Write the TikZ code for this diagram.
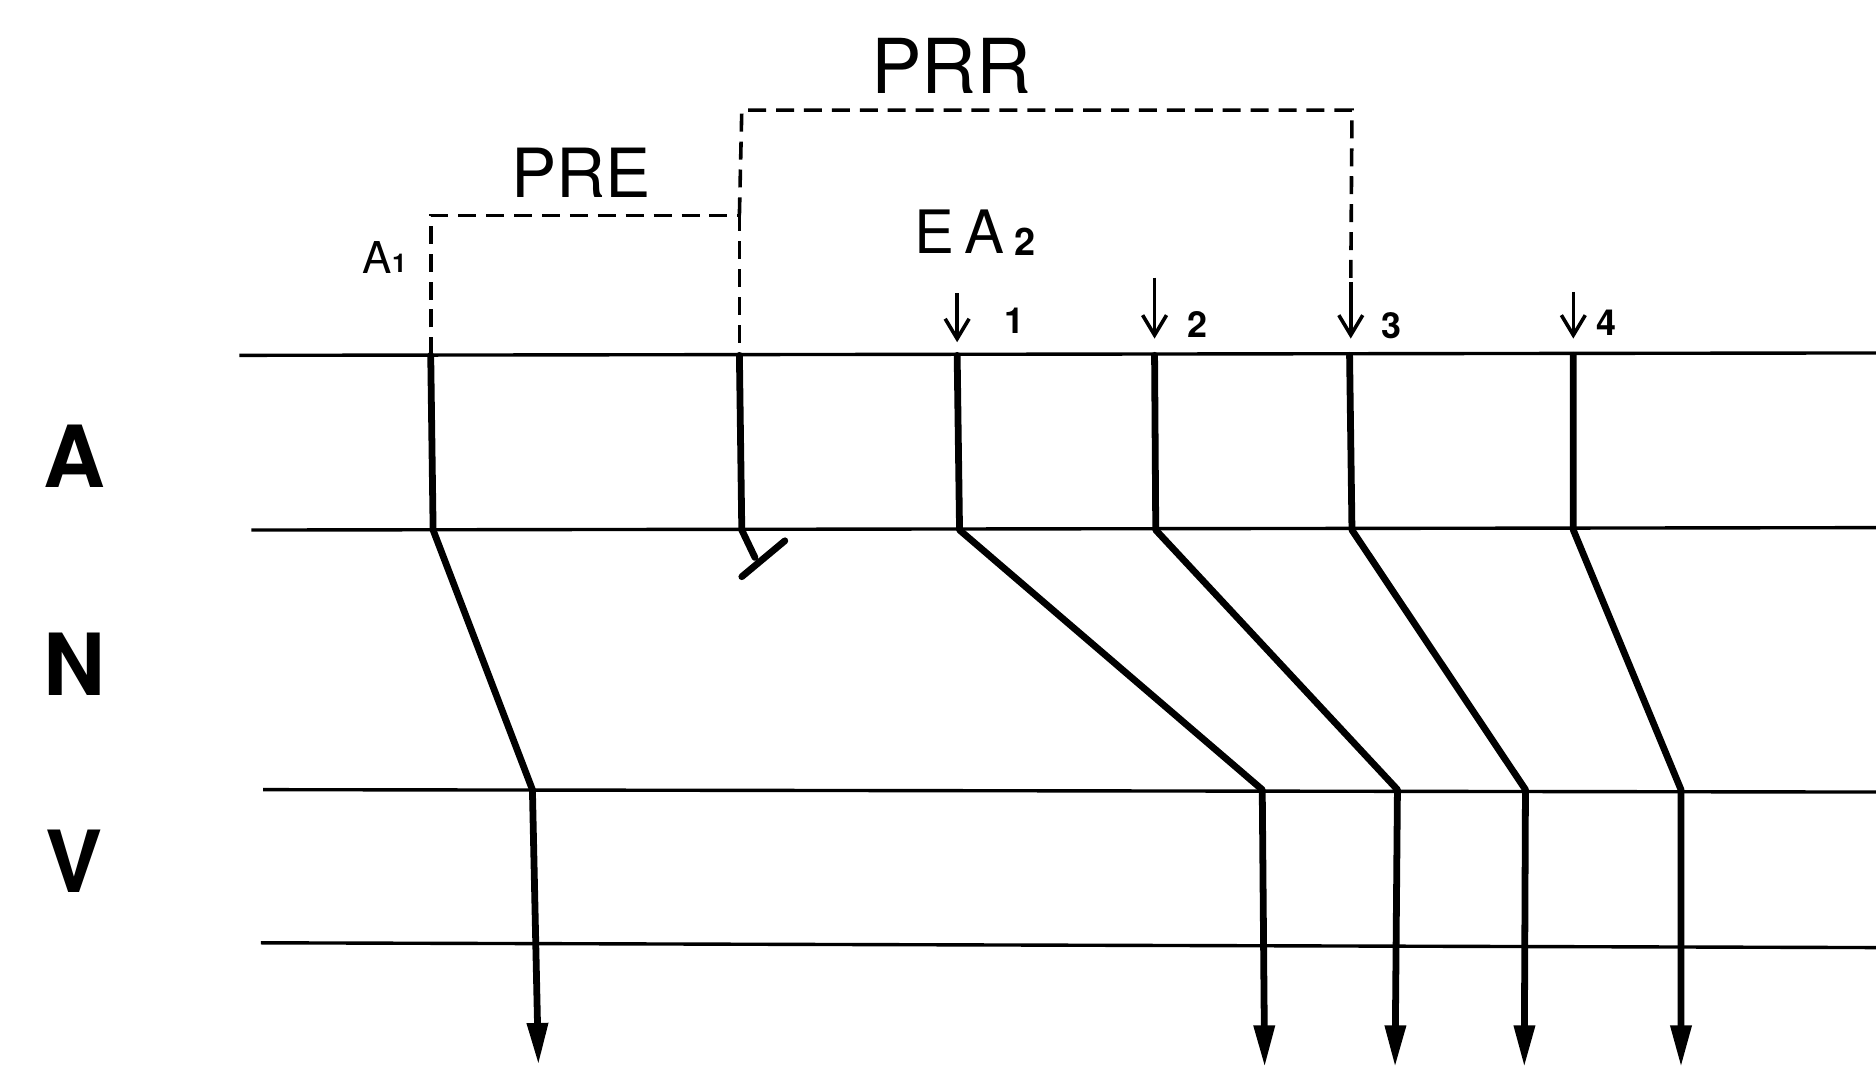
\documentclass[tikz,border=0pt]{standalone}
\usepackage{fontspec}
\setmainfont{TeX Gyre Heros}
\usetikzlibrary{arrows.meta}
\begin{document}
\begin{tikzpicture}[x=0.6pt,y=-0.6pt,
  hline/.style={line width=1.7pt},
  path/.style={line width=3.4pt,line join=round,line cap=round},
  endarrow/.style={-{Triangle[length=21pt,width=10pt]}},
  smallarrow/.style={line width=1.8pt,-{Straight Barb[length=10pt,width=12pt,line width=1.8pt]}},
  bracket/.style={line width=1.8pt,dash pattern=on 9pt off 5pt},
  lbl/.style={inner sep=0pt,anchor=center},
  big/.style={lbl,font=\fontsize{43}{43}\selectfont\bfseries},
  num/.style={lbl,font=\fontsize{18}{18}\selectfont\bfseries}]
\useasboundingbox (0,0) rectangle (1568,899);
% horizontal layer lines
\coordinate (l1a) at (200,297); \coordinate (l1b) at (1568,295);
\coordinate (l2a) at (210,443); \coordinate (l2b) at (1568,441);
\coordinate (l3a) at (220,660); \coordinate (l3b) at (1568,662);
\coordinate (l4a) at (218,788); \coordinate (l4b) at (1568,792);
\draw[hline] (l1a) -- (l1b);
\draw[hline] (l2a) -- (l2b);
\draw[hline] (l3a) -- (l3b);
\draw[hline] (l4a) -- (l4b);
% layer labels
\node[big] (lA) at (62,381) {A};
\node[big] (lN) at (62,555) {N};
\node[big] (lV) at (62,720) {V};
% pathway A1
\coordinate (a0) at (360,297); \coordinate (a1) at (362,443);
\coordinate (a2) at (445,660); \coordinate (a3) at (450,890);
\draw[path,endarrow] (a0) -- (a1) -- (a2) -- (a3);
% blocked pathway
\coordinate (b0) at (618,297); \coordinate (b1) at (620,443);
\coordinate (b2) at (631,466); \coordinate (bb1) at (620,482); \coordinate (bb2) at (656,452);
\draw[path] (b0) -- (b1) -- (b2);
\draw[path] (bb1) -- (bb2);
% pathways 1-4
\coordinate (p10) at (800,297); \coordinate (p11) at (802,443);
\coordinate (p12) at (1055,660); \coordinate (p13) at (1057,892);
\coordinate (p20) at (965,297); \coordinate (p21) at (966,443);
\coordinate (p22) at (1168,660); \coordinate (p23) at (1166,892);
\coordinate (p30) at (1128,297); \coordinate (p31) at (1130,443);
\coordinate (p32) at (1275,660); \coordinate (p33) at (1274,892);
\coordinate (p40) at (1315,297); \coordinate (p41) at (1315,443);
\coordinate (p42) at (1405,660); \coordinate (p43) at (1405,892);
\draw[path,endarrow] (p10) -- (p11) -- (p12) -- (p13);
\draw[path,endarrow] (p20) -- (p21) -- (p22) -- (p23);
\draw[path,endarrow] (p30) -- (p31) -- (p32) -- (p33);
\draw[path,endarrow] (p40) -- (p41) -- (p42) -- (p43);
% small stimulus arrows
\coordinate (s1) at (800,245); \coordinate (e1) at (800,286);
\coordinate (s2) at (965,232); \coordinate (e2) at (965,283);
\coordinate (s3) at (1129,236); \coordinate (e3) at (1129,283);
\coordinate (s4) at (1315,244); \coordinate (e4) at (1315,283);
\draw[smallarrow] (s1) -- (e1);
\draw[smallarrow] (s2) -- (e2);
\draw[smallarrow] (s3) -- (e3);
\draw[smallarrow] (s4) -- (e4);
\node[num] (n1) at (848,268) {1};
\node[num] (n2) at (1001,271) {2};
\node[num] (n3) at (1163,272) {3};
\node[num] (n4) at (1343,270) {4};
% dashed brackets
\coordinate (pre1) at (360,180); \coordinate (pre2) at (618,180);
\coordinate (prr1) at (620,92); \coordinate (prr2) at (1130,92);
\draw[bracket] (a0) -- (pre1) -- (pre2) -- (b0);
\draw[bracket] (pre2) -- (prr1) -- (prr2) -- (s3);
% labels
\node[lbl,font=\fontsize{38}{38}\selectfont] (prr) at (795,55) {PRR};
\node[lbl,font=\fontsize{34}{34}\selectfont] (pre) at (486,144) {PRE};
\node[lbl,font=\fontsize{22}{22}\selectfont,anchor=base west] (a1lbl) at (303,229) {A\raisebox{0.5pt}{\fontsize{13}{13}\selectfont\bfseries 1}};
\node[lbl,font=\fontsize{30}{30}\selectfont,anchor=base west] (ea2) at (764,212) {E\,A\,\raisebox{-1pt}{\fontsize{19}{19}\selectfont\bfseries 2}};
\end{tikzpicture}
\end{document}
